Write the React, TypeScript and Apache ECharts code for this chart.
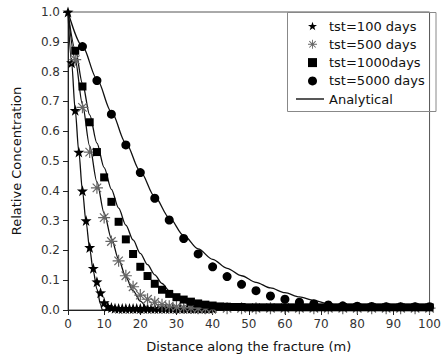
import React, { useEffect, useRef } from 'react';
import * as echarts from 'echarts';

// ---- data ----
const starX = [0, 1, 2, 3, 4, 5, 6, 7, 8, 9, 10, 11, 12, 13, 14, 15, 16, 17, 18, 19, 20, 21, 22, 23, 24, 25, 26, 27, 28, 29, 30, 31, 32, 33, 34, 35, 36, 37, 38, 39, 40];
const starY = [1.0, 0.83, 0.67, 0.53, 0.40, 0.30, 0.21, 0.14, 0.095, 0.058, 0.025, 0.012, 0.008, 0.006, 0.005, 0.005, 0.005, 0.005, 0.005, 0.005, 0.005, 0.005, 0.005, 0.005, 0.005, 0.005, 0.005, 0.005, 0.005, 0.005, 0.005, 0.005, 0.005, 0.005, 0.005, 0.005, 0.005, 0.005, 0.005, 0.005, 0.005];

const astX = [2, 4, 6, 8, 10, 12, 14, 16, 18, 20, 22, 24, 26, 28, 30, 32, 34, 36, 38, 40, 44, 48, 52, 56, 60, 64, 68, 72, 76, 80, 84, 88, 92, 96, 100];
const astY = [0.84, 0.68, 0.53, 0.41, 0.31, 0.23, 0.165, 0.115, 0.078, 0.05, 0.036, 0.026, 0.018, 0.013, 0.01, 0.008, 0.007, 0.006, 0.006, 0.006, 0.006, 0.006, 0.006, 0.006, 0.006, 0.006, 0.006, 0.006, 0.006, 0.006, 0.006, 0.006, 0.006, 0.006, 0.006];

const sqX = [2, 4, 6, 8, 10, 12, 14, 16, 18, 20, 22, 24, 26, 28, 30, 32, 34, 36, 38, 40, 42, 44, 46, 48, 50, 52, 54, 56, 58, 60, 62, 64, 66, 68, 70, 72, 74, 76, 78, 80, 82, 84, 86, 88, 90, 92, 94, 96, 98, 100];
const sqY = [0.87, 0.75, 0.63, 0.53, 0.445, 0.363, 0.296, 0.237, 0.188, 0.145, 0.114, 0.088, 0.068, 0.054, 0.043, 0.035, 0.028, 0.022, 0.018, 0.015, 0.012, 0.011, 0.01, 0.01, 0.009, 0.009, 0.009, 0.009, 0.009, 0.009, 0.009, 0.009, 0.009, 0.009, 0.009, 0.009, 0.009, 0.009, 0.009, 0.009, 0.009, 0.009, 0.009, 0.009, 0.009, 0.009, 0.009, 0.009, 0.009, 0.009];

const cirX = [4, 8, 12, 16, 20, 24, 28, 32, 36, 40, 44, 48, 52, 56, 60, 64, 68, 72, 76, 80, 84, 88, 92, 96, 100];
const cirY = [0.884, 0.77, 0.657, 0.554, 0.461, 0.375, 0.302, 0.24, 0.188, 0.145, 0.112, 0.086, 0.065, 0.047, 0.036, 0.026, 0.021, 0.017, 0.014, 0.013, 0.012, 0.011, 0.011, 0.011, 0.011];

const a100X = [0, 1, 2, 3, 4, 5, 6, 7, 8, 9, 9.5, 100];
const a100Y = [1, 0.83, 0.67, 0.53, 0.40, 0.295, 0.205, 0.13, 0.07, 0.02, 0, 0];

const a500X = [0, 2, 4, 6, 8, 10, 12, 14, 16, 18, 20, 22, 23, 100];
const a500Y = [1, 0.84, 0.69, 0.55, 0.43, 0.325, 0.24, 0.17, 0.11, 0.065, 0.03, 0.006, 0, 0];

const a1000X = [0, 2, 4, 6, 8, 10, 12, 14, 16, 18, 20, 22, 24, 26, 28, 30, 32, 34, 36, 38, 100];
const a1000Y = [1, 0.875, 0.76, 0.655, 0.56, 0.478, 0.405, 0.342, 0.285, 0.235, 0.19, 0.152, 0.118, 0.089, 0.064, 0.043, 0.027, 0.015, 0.006, 0, 0];

const a5000X = [0, 4, 8, 12, 16, 20, 24, 28, 32, 36, 40, 44, 48, 52, 56, 60, 64, 68, 72, 76, 80, 84, 88, 100];
const a5000Y = [1, 0.885, 0.775, 0.665, 0.56, 0.465, 0.38, 0.31, 0.25, 0.205, 0.17, 0.14, 0.115, 0.093, 0.074, 0.058, 0.044, 0.032, 0.021, 0.012, 0.005, 0.001, 0, 0];

const seriesNames = ['tst=100 days', 'tst=500 days', 'tst=1000days', 'tst=5000 days'];
const lineName = 'Analytical';
const xTicks = { min: 0, max: 100, interval: 10 };
const yTicks = { min: 0, max: 1, interval: 0.1 };

const xTitle = 'Distance along the fracture (m)';
const yTitle = 'Relative Concentration';

// ---- symbols ----
const STAR = 'path://M10,0 L12.35,6.76 L19.51,6.91 L13.80,11.24 L15.88,18.09 L10,14 L4.12,18.09 L6.20,11.24 L0.49,6.91 L7.65,6.76 Z';
const ASTERISK =
  'path://M9,0 L11,0 L11,20 L9,20 Z ' +
  'M0,9 L20,9 L20,11 L0,11 Z ' +
  'M3.64,2.22 L17.78,16.36 L16.36,17.78 L2.22,3.64 Z ' +
  'M16.36,2.22 L17.78,3.64 L3.64,17.78 L2.22,16.36 Z';

const FONT = '"DejaVu Sans", "Liberation Sans", Arial, sans-serif';

const zip = (xs: number[], ys: number[]) => xs.map((x, i) => [x, ys[i]]);

export default function App() {
  const ref = useRef<HTMLDivElement>(null);
  useEffect(() => {
    const chart = echarts.init(ref.current!, null, { renderer: 'svg' });
    const lineSeries = (xs: number[], ys: number[]) => ({
      name: lineName,
      type: 'line',
      data: zip(xs, ys),
      symbol: 'none',
      showSymbol: false,
      smooth: 0.3,
      smoothMonotone: 'x',
      lineStyle: { color: '#111', width: 1.3 },
      itemStyle: { color: '#111' },
      z: 2,
    });
    const option: any = {
      animation: false,
      backgroundColor: '#fff',
      textStyle: { fontFamily: FONT },
      grid: {
        left: 68,
        right: 8,
        top: 12,
        bottom: 48,
        show: true,
        borderColor: '#555',
        borderWidth: 1,
        backgroundColor: 'transparent',
      },
      graphic: [
        {
          type: 'rect',
          shape: { x: 287.5, y: 12.5, width: 148.5, height: 99 },
          style: { fill: 'none', stroke: '#888', lineWidth: 1 },
          z: 1,
        },
      ],
      legend: [
        {
          data: seriesNames,
          orient: 'vertical',
          left: 308,
          top: 19,
          padding: 0,
          itemWidth: 9,
          itemHeight: 9,
          itemGap: 4.3,
          textStyle: { fontSize: 13, color: '#111', fontFamily: FONT, padding: [0, 0, 0, 7], lineHeight: 14 },
        },
        {
          data: [{ name: lineName, icon: 'rect' }],
          orient: 'vertical',
          left: 296,
          top: 92,
          padding: 0,
          itemWidth: 28,
          itemHeight: 1.4,
          textStyle: { fontSize: 13, color: '#111', fontFamily: FONT, lineHeight: 14 },
        },
      ],
      xAxis: {
        type: 'value',
        ...xTicks,
        name: xTitle,
        nameLocation: 'middle',
        nameGap: 30,
        nameTextStyle: { fontSize: 13, color: '#111', fontFamily: FONT },
        axisLine: { lineStyle: { color: '#222', width: 1 } },
        axisTick: { show: true, length: 5, lineStyle: { color: '#222' } },
        splitLine: { show: false },
        axisLabel: { fontSize: 12, color: '#333', margin: 8, fontFamily: FONT },
      },
      yAxis: {
        type: 'value',
        ...yTicks,
        name: yTitle,
        nameLocation: 'middle',
        nameGap: 45,
        nameTextStyle: { fontSize: 13, color: '#111', fontFamily: FONT },
        axisLine: { show: true, lineStyle: { color: '#222', width: 1 } },
        axisTick: { show: true, length: 5, lineStyle: { color: '#222' } },
        splitLine: { show: false },
        axisLabel: { fontSize: 12, color: '#333', margin: 8, fontFamily: FONT, formatter: (v: number) => v.toFixed(1) },
      },
      series: [
        lineSeries(a100X, a100Y),
        lineSeries(a500X, a500Y),
        lineSeries(a1000X, a1000Y),
        lineSeries(a5000X, a5000Y),
        {
          name: seriesNames[0],
          type: 'scatter',
          data: zip(starX, starY),
          symbol: STAR,
          symbolSize: 11,
          itemStyle: { color: '#000', opacity: 1 },
          z: 3,
        },
        {
          name: seriesNames[1],
          type: 'scatter',
          data: zip(astX, astY),
          symbol: ASTERISK,
          symbolSize: 12,
          itemStyle: { color: '#666', opacity: 1 },
          z: 3,
        },
        {
          name: seriesNames[2],
          type: 'scatter',
          data: zip(sqX, sqY),
          symbol: 'rect',
          symbolSize: 8,
          itemStyle: { color: '#000', opacity: 1 },
          z: 3,
        },
        {
          name: seriesNames[3],
          type: 'scatter',
          data: zip(cirX, cirY),
          symbol: 'circle',
          symbolSize: 9,
          itemStyle: { color: '#000', opacity: 1 },
          z: 3,
        },
      ],
    };
    chart.setOption(option);
    return () => chart.dispose();
  }, []);
  return <div ref={ref} style={{ position: 'fixed', left: 0, top: 0, width: 444, height: 358 }} />;
}
